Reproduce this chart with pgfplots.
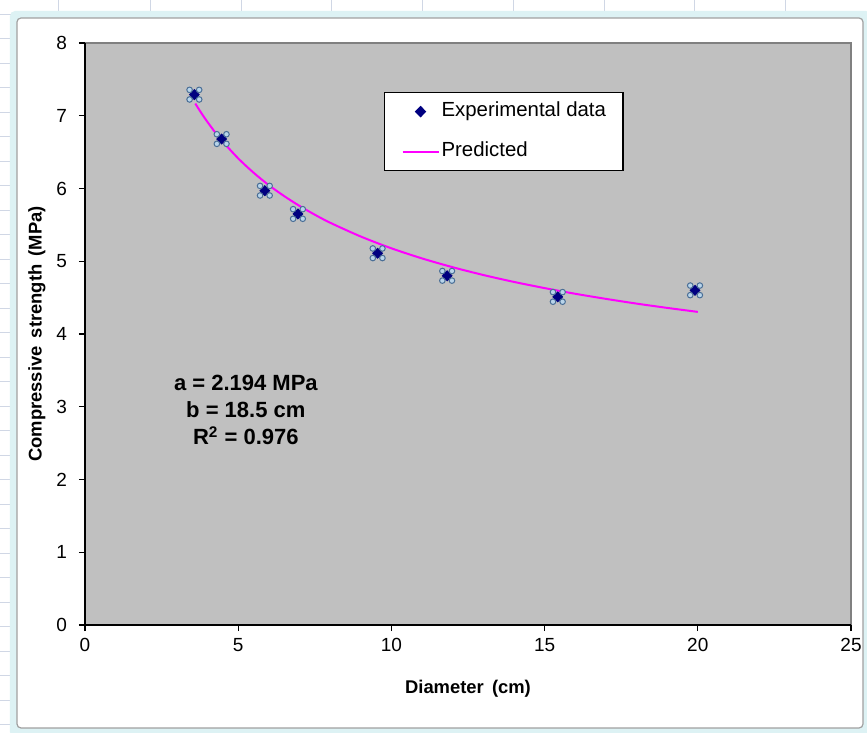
\documentclass[border=0pt]{standalone}
\usepackage{fontspec}
\setmainfont{Liberation Sans}
\usepackage{pgfplots}
\pgfplotsset{compat=1.18}

\definecolor{plotgray}{HTML}{C0C0C0}
\definecolor{bordergray}{HTML}{808080}
\definecolor{navy}{HTML}{000080}
\definecolor{predline}{HTML}{FF00FF}
\definecolor{selfill}{HTML}{B8D4EA}
\definecolor{seldraw}{HTML}{4A6E96}
\definecolor{sheetline}{HTML}{D0D7E5}
\definecolor{frameband}{HTML}{DDF2F4}
\definecolor{framegray}{HTML}{A0A0A0}

% selection handles that Excel draws round a selected point
\pgfdeclareplotmark{handles}{%
  \pgfpathcircle{\pgfqpoint{2.4pt}{2.4pt}}{1.4pt}%
  \pgfpathcircle{\pgfqpoint{-2.4pt}{2.4pt}}{1.4pt}%
  \pgfpathcircle{\pgfqpoint{2.4pt}{-2.4pt}}{1.4pt}%
  \pgfpathcircle{\pgfqpoint{-2.4pt}{-2.4pt}}{1.4pt}%
  \pgfusepathqfillstroke}

\pgfplotsset{
  legexp/.style={legend image code/.code={\draw[mark repeat=1,mark phase=1,##1] plot coordinates {(9pt,0pt)};}},
  legline/.style={legend image code/.code={\draw[##1] (0pt,0pt) -- (18pt,0pt);}},
}

\pgfplotstableread{
d     s
3.57  7.29
4.46  6.68
5.87  5.97
6.95  5.65
9.55  5.11
11.82 4.80
15.43 4.51
19.91 4.60
}\expdata

\pgfplotstableread{
d    s
3.6  7.168
3.8  7.035
4    6.913
4.25 6.771
4.5  6.643
5    6.414
5.5  6.218
6    6.046
6.5  5.896
7    5.761
7.5  5.640
8    5.530
9    5.340
10   5.178
11   5.039
12   4.918
13   4.811
14   4.716
15   4.631
16   4.553
17   4.483
18   4.418
19   4.359
20   4.304
}\preddata

\begin{document}
\begin{tikzpicture}
% sheet behind the chart (1 px = 0.5pt, origin at the axis corner)
\useasboundingbox (-42.5pt,-54pt) rectangle (391pt,312.5pt);
\begin{scope}
\clip (-42.5pt,-54pt) rectangle (391pt,312.5pt);
\fill[white] (-42.5pt,-54pt) rectangle (391pt,312.5pt);
\foreach \x in {-13,32.5,78,123,168.5,214,259.5,304.5,350}
  \draw[sheetline, line width=0.5pt] (\x pt,-60pt) -- (\x pt,320pt);
\foreach \k [evaluate=\k as \yy using 146+12.25*\k] in {-16,...,14}
  \draw[sheetline, line width=0.5pt] (-50pt,\yy pt) -- (400pt,\yy pt);
\fill[frameband, rounded corners=2.5pt] (-37.5pt,-56pt) rectangle (393pt,307pt);
\filldraw[fill=white, draw=framegray, line width=0.6pt, rounded corners=2pt] (-34pt,-51.5pt) rectangle (389pt,303.5pt);
\end{scope}

\begin{axis}[
    scale only axis,
    width=383pt, height=291pt,
    xmin=0, xmax=25, ymin=0, ymax=8,
    xtick={0,5,10,15,20,25},
    ytick={0,1,2,3,4,5,6,7,8},
    axis lines*=left,
    axis line style={black, line width=0.8pt},
    axis background/.style={fill=plotgray, draw=bordergray, line width=0.6pt},
    tick align=outside,
    major tick length=3pt,
    tick style={black, line width=0.6pt},
    tick label style={font=\fontsize{9.5}{11}\selectfont},
    yticklabel style={xshift=-2.5pt},
    /pgf/number format/assume math mode=true,
    xlabel={Diameter\, (cm)},
    ylabel={Compressive\, strength\, (MPa)},
    label style={font=\bfseries\fontsize{9.2}{11}\selectfont},
    xlabel style={at={(axis description cs:0.5,-0.11)}, anchor=center},
    ylabel style={at={(axis description cs:-0.0627,0.5)}, anchor=center},
    legend cell align=left,
    legend style={at={(0.3903,0.9158)}, anchor=north west, draw=black,
      fill=white, line width=0.6pt,
      font=\fontsize{10.2}{12}\selectfont,
      inner xsep=8.5pt, inner ysep=4.5pt, row sep=10pt,
      nodes={inner sep=0pt, text height=7.5pt, text depth=2.5pt},
      /tikz/every odd column/.append style={column sep=1pt}},
]
\addplot[only marks, mark=diamond*, mark size=2.5pt,
  mark options={fill=navy, draw=navy, xscale=1.3}, legexp]
  table[x=d, y=s] {\expdata};
\addlegendentry{Experimental data}
\addplot[predline, line width=1pt, no markers, smooth, legline]
  table[x=d, y=s] {\preddata};
\addlegendentry{Predicted}
\addplot[forget plot, only marks, mark=handles,
  mark options={fill=selfill, draw=seldraw, line width=0.5pt}]
  table[x=d, y=s] {\expdata};
\node[align=center, font=\bfseries\fontsize{11}{13.5}\selectfont]
  at (axis cs:5.25,2.95) {a = 2.194 MPa\\ b = 18.5 cm\\ R\textsuperscript{2} = 0.976};
\end{axis}
\end{tikzpicture}
\end{document}
